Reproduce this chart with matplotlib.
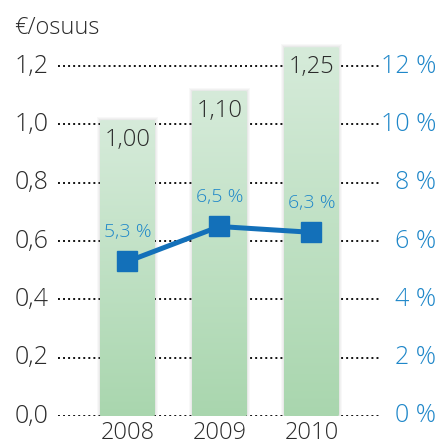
import numpy as np
import matplotlib.pyplot as plt
from matplotlib.patches import Rectangle, FancyBboxPatch
from matplotlib.transforms import blended_transform_factory

# data
years = ["2008", "2009", "2010"]
dividend = [1.00, 1.10, 1.25]          # €/osuus
dividend_labels = ["1,00", "1,10", "1,25"]
share_pct = [5.3, 6.5, 6.3]            # %
share_labels = ["5,3 %", "6,5 %", "6,3 %"]
left_ticks = [0.0, 0.2, 0.4, 0.6, 0.8, 1.0, 1.2]
left_tick_labels = ["0,0", "0,2", "0,4", "0,6", "0,8", "1,0", "1,2"]
right_ticks = [0, 2, 4, 6, 8, 10, 12]
right_tick_labels = ["0 %", "2 %", "4 %", "6 %", "8 %", "10 %", "12 %"]

plt.rcParams['font.family'] = ['Open Sans', 'DejaVu Sans']
TXT = "#2b2b2b"
BLUE_TXT = "#1f87c9"
LINE = "#1370b9"

fig = plt.figure(figsize=(4.4, 4.46), dpi=100)
W, H = 440, 446
ax = fig.add_axes([58 / W, 30 / H, 322 / W, 379 / H])
ax.set_xlim(-0.755, 2.745)
ax.set_ylim(0, 1.3)
ax.axis("off")

# dotted grid lines
for t in left_ticks:
    ax.axhline(t, color="#111111", lw=1.4, ls=(0, (1, 1.6)), zorder=1)

# left / right labels
for t, lab in zip(left_ticks, left_tick_labels):
    ax.text(-0.86, t, lab, ha="right", va="center", fontsize=18,
            color=TXT, fontweight="light")
right_tr = blended_transform_factory(fig.transFigure, ax.transData)
for t, lab in zip(right_ticks, right_tick_labels):
    fig.text(436 / W, t / 10.0, lab, ha="right", va="center", fontsize=18,
             color=BLUE_TXT, fontweight="light", transform=right_tr)

fig.text(14 / W, 1 - 28 / H, "€/osuus", ha="left", va="center",
         fontsize=17, color=TXT, fontweight="light")

# bars with gradient + soft shadow
bw = 0.6
grad = np.linspace(0, 1, 256).reshape(-1, 1)
cmap = plt.matplotlib.colors.LinearSegmentedColormap.from_list(
    "g", ["#a9d6ae", "#d6ebda"])
year_tr = blended_transform_factory(ax.transData, fig.transFigure)
for i, v in enumerate(dividend):
    x0 = i - bw / 2
    top = v + 0.015
    for k, a in enumerate([0.05, 0.05, 0.06]):
        pad = 0.012 * (3 - k)
        ax.add_patch(Rectangle((x0 - pad, 0), bw + 2 * pad, top + pad * 0.3,
                               color="#777777", alpha=a, lw=0, zorder=2))
    im = ax.imshow(grad, extent=[x0, x0 + bw, 0, top], origin="lower",
                   cmap=cmap, aspect="auto", zorder=3)
    clip = FancyBboxPatch((x0, 0), bw, top, boxstyle="round,pad=0,rounding_size=0.01",
                          transform=ax.transData, facecolor="none", edgecolor="none")
    ax.add_patch(clip)
    im.set_clip_path(clip)
    ax.text(i, v - 0.012, dividend_labels[i], ha="center", va="top",
            fontsize=17, color=TXT, fontweight="light", zorder=5)
    fig.text(i, 1 / H, years[i], ha="center", va="bottom", fontsize=17,
             color=TXT, fontweight="light", transform=year_tr)

# share line on right scale (0..12 %)
ax2 = ax.twinx()
ax2.set_ylim(0, 13)
ax2.axis("off")
xs = np.arange(len(years))
ax2.plot(xs, share_pct, color=LINE, lw=3.6, marker="s", markersize=14,
         zorder=6)
for x, v, lab in zip(xs, share_pct, share_labels):
    ax2.text(x, v + 0.7, lab, ha="center", va="bottom", fontsize=14,
             color=BLUE_TXT, fontweight="light")

fig.savefig("out.png", dpi=100)
